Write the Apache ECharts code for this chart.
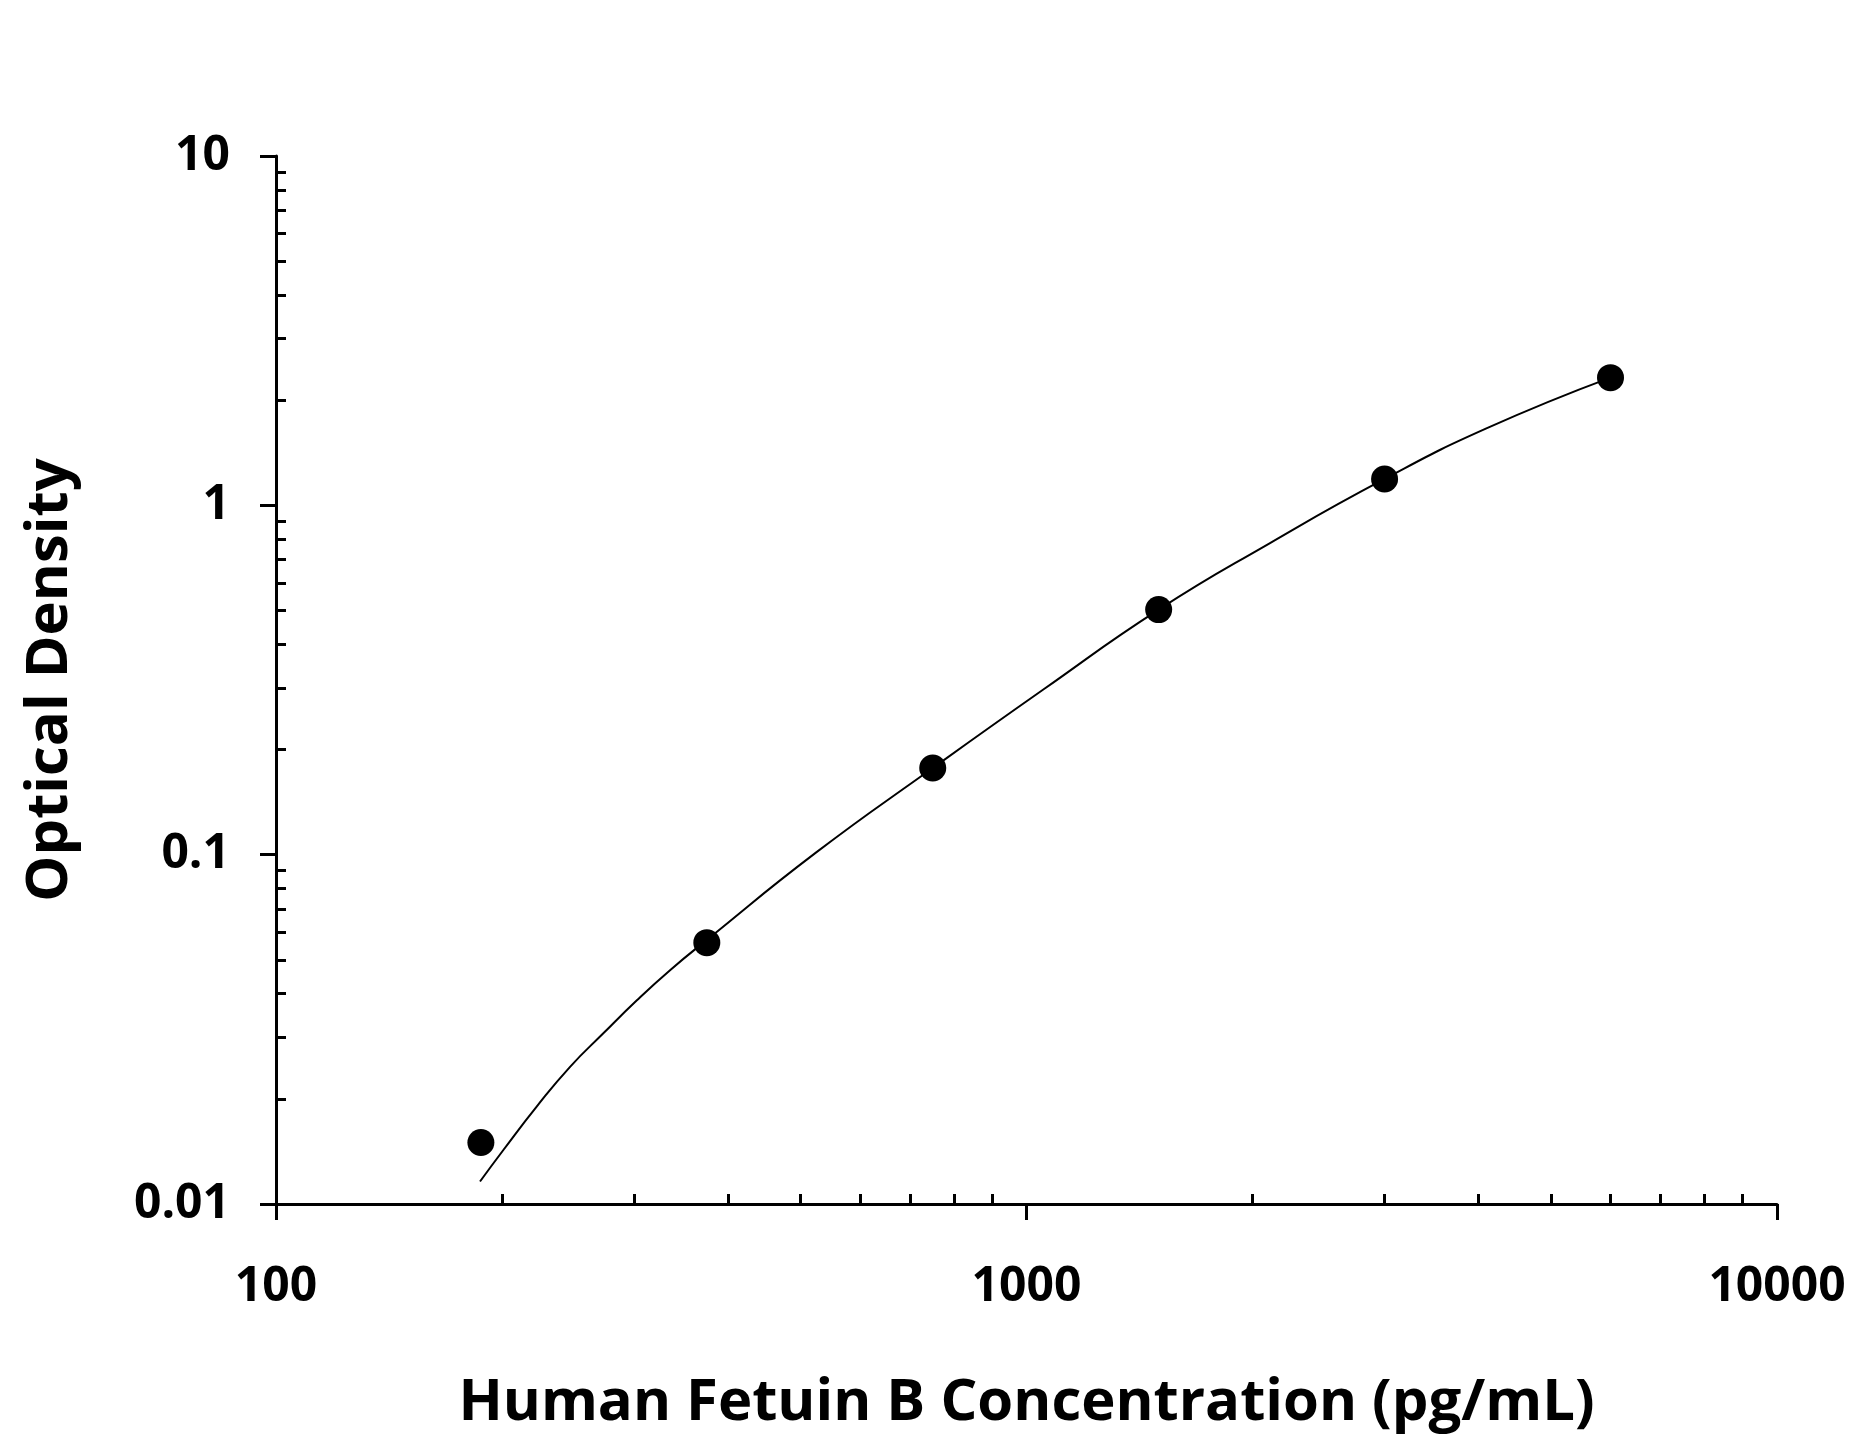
<!DOCTYPE html>
<html>
<head>
<meta charset="utf-8">
<script src="https://cdn.jsdelivr.net/npm/echarts@6/dist/echarts.min.js"></script>
<style>
  html, body { margin: 0; padding: 0; background: #fff; }
  #chart { width: 1858px; height: 1444px; }
</style>
</head>
<body>
<div id="chart"></div>
<script>
// standards (pg/mL) and measured OD
const concentration = [187.5, 375, 750, 1500, 3000, 6000];
const opticalDensity = [0.015, 0.056, 0.177, 0.503, 1.19, 2.32];

// fitted curve
const curveConc = [187, 201, 222.5, 246.5, 273, 302.6, 335, 375, 523, 750, 1053, 1500, 2111, 3000, 4100, 6000];
const curveOD = [0.0116, 0.0143, 0.019, 0.0247, 0.0308, 0.0383, 0.0467, 0.057, 0.101, 0.177, 0.297, 0.503, 0.78, 1.19, 1.66, 2.32];

// axis ticks
const xMajorTicks = [100, 1000, 10000];
const xMinorTicks = [200, 300, 400, 500, 600, 700, 800, 900, 2000, 3000, 4000, 5000, 6000, 7000, 8000, 9000];
const yMajorTicks = [0.01, 0.1, 1, 10];
const yMinorTicks = [0.02, 0.03, 0.04, 0.05, 0.06, 0.07, 0.08, 0.09,
                     0.2, 0.3, 0.4, 0.5, 0.6, 0.7, 0.8, 0.9,
                     2, 3, 4, 5, 6, 7, 8, 9];

const FONT = "'Open Sans', 'DejaVu Sans', sans-serif";

let chart = echarts.init(document.getElementById('chart'));

let fmt = function (v) {
    return String(Number(Number(v).toPrecision(6)));
};

let option = {
    backgroundColor: '#fff',
    animation: false,
    grid: { left: 276, right: 81, top: 156, bottom: 240, containLabel: false },
    xAxis: [
        {
            type: 'log', logBase: 10, min: 100, max: 10000,
            name: 'Human Fetuin B Concentration (pg/mL)',
            nameLocation: 'middle', nameGap: 170,
            nameTextStyle: { fontFamily: FONT, fontWeight: 'bold', fontSize: 58, color: '#000' },
            axisLine: { lineStyle: { color: '#000', width: 3 } },
            axisTick: { show: true, inside: false, length: 16, lineStyle: { color: '#000', width: 3 }, customValues: xMajorTicks },
            axisLabel: { show: true, margin: 59, fontFamily: FONT, fontWeight: 'bold', fontSize: 48, color: '#000',
                         customValues: xMajorTicks, formatter: fmt },
            splitLine: { show: false }
        },
        {
            // minor ticks point inward
            type: 'log', logBase: 10, min: 100, max: 10000, position: 'bottom',
            axisLine: { show: false },
            axisTick: { show: true, inside: true, length: 10, lineStyle: { color: '#000', width: 3 }, customValues: xMinorTicks },
            axisLabel: { show: false },
            splitLine: { show: false }
        }
    ],
    yAxis: [
        {
            type: 'log', logBase: 10, min: 0.01, max: 10,
            name: 'Optical Density',
            nameLocation: 'middle', nameGap: 197,
            nameTextStyle: { fontFamily: FONT, fontWeight: 'bold', fontSize: 58, color: '#000' },
            axisLine: { lineStyle: { color: '#000', width: 3 } },
            axisTick: { show: true, inside: false, length: 16, lineStyle: { color: '#000', width: 3 }, customValues: yMajorTicks },
            axisLabel: { show: true, margin: 46, fontFamily: FONT, fontWeight: 'bold', fontSize: 48, color: '#000',
                         customValues: yMajorTicks, formatter: fmt },
            splitLine: { show: false }
        },
        {
            type: 'log', logBase: 10, min: 0.01, max: 10, position: 'left',
            axisLine: { show: false },
            axisTick: { show: true, inside: true, length: 10, lineStyle: { color: '#000', width: 3 }, customValues: yMinorTicks },
            axisLabel: { show: false },
            splitLine: { show: false }
        }
    ],
    series: [
        {
            name: 'fit',
            type: 'line',
            xAxisIndex: 0, yAxisIndex: 0,
            smooth: 0.5,
            showSymbol: false,
            lineStyle: { color: '#000', width: 2 },
            data: curveConc.map((c, i) => [c, curveOD[i]]),
            z: 2
        },
        {
            name: 'standards',
            type: 'scatter',
            xAxisIndex: 0, yAxisIndex: 0,
            symbol: 'circle',
            symbolSize: 27,
            itemStyle: { color: '#000', opacity: 1 },
            data: concentration.map((c, i) => [c, opticalDensity[i]]),
            z: 3
        }
    ]
};

chart.setOption(option);
</script>
</body>
</html>
